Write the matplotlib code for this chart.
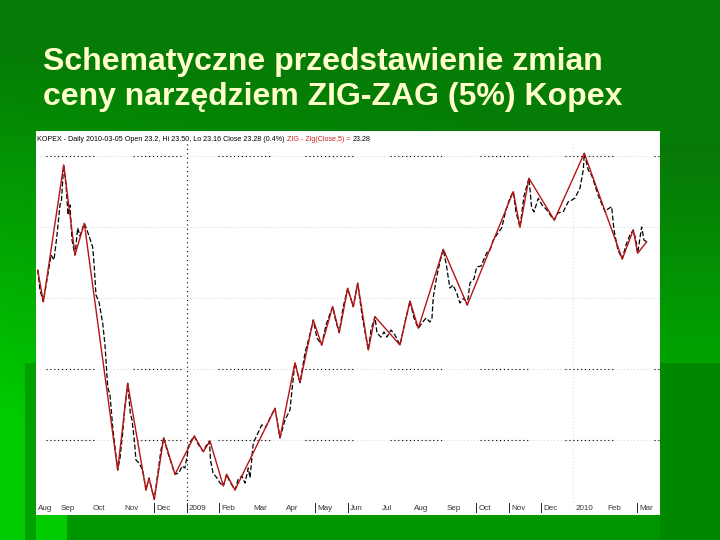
import numpy as np
import matplotlib
matplotlib.use("Agg")
import matplotlib.pyplot as plt
from matplotlib.patches import Rectangle
from matplotlib import font_manager

# ---------------- data (x = months since 1 Aug 2008, y = price) ----------------
zig_month = [0.373, 0.547, 1.180, 1.531, 1.820, 2.857, 3.168, 3.736, 3.829, 3.994,
             4.286, 4.637, 5.236, 5.516, 5.724, 6.137, 6.242, 6.500, 7.742, 7.898,
             8.363, 8.519, 8.932, 9.193, 9.534, 9.739, 10.000, 10.174, 10.311, 10.640,
             10.848, 11.624, 11.935, 12.193, 12.969, 13.714, 15.143, 15.351, 15.630, 16.416,
             17.348, 18.528, 18.870, 19.006, 19.286]
zig_price = [21.97, 19.74, 29.37, 23.03, 25.26, 7.89, 13.99, 6.48, 7.32, 5.82,
             10.16, 7.58, 10.28, 9.18, 9.93, 6.76, 7.58, 6.48, 12.23, 10.16,
             15.44, 14.04, 18.45, 16.69, 19.39, 17.56, 20.68, 19.39, 21.04, 16.34,
             18.68, 16.69, 19.79, 17.87, 23.43, 19.51, 27.49, 24.98, 28.43, 25.49,
             30.19, 22.75, 24.79, 23.15, 23.96]

close_month = [0.373, 0.444, 0.547, 0.661, 0.786, 0.879, 0.972, 1.065, 1.112, 1.180,
               1.252, 1.314, 1.376, 1.438, 1.531, 1.615, 1.686, 1.748, 1.820, 1.904,
               1.975, 2.081, 2.130, 2.183, 2.276, 2.391, 2.463, 2.547, 2.618, 2.711,
               2.857, 2.929, 3.012, 3.084, 3.168, 3.248, 3.301, 3.373, 3.425, 3.519,
               3.634, 3.736, 3.829, 3.994, 4.109, 4.202, 4.286, 4.388, 4.512, 4.637,
               4.761, 4.854, 4.947, 5.081, 5.236, 5.351, 5.516, 5.599, 5.708, 5.739,
               5.817, 5.941, 6.034, 6.137, 6.242, 6.345, 6.500, 6.602, 6.717, 6.811,
               6.913, 6.966, 7.068, 7.214, 7.329, 7.463, 7.587, 7.742, 7.898, 8.053,
               8.208, 8.270, 8.363, 8.519, 8.674, 8.798, 8.932, 9.047, 9.193, 9.326,
               9.534, 9.637, 9.739, 9.854, 10.000, 10.174, 10.311, 10.444, 10.640, 10.724,
               10.848, 10.910, 11.034, 11.127, 11.220, 11.345, 11.469, 11.624, 11.780, 11.935,
               12.059, 12.193, 12.307, 12.432, 12.556, 12.618, 12.658, 12.764, 12.866, 12.969,
               13.075, 13.116, 13.177, 13.270, 13.385, 13.488, 13.612, 13.714, 13.798, 13.922,
               14.006, 14.140, 14.317, 14.419, 14.522, 14.668, 14.783, 14.916, 15.040, 15.143,
               15.227, 15.351, 15.475, 15.630, 15.714, 15.786, 15.919, 16.034, 16.189, 16.314,
               16.416, 16.531, 16.696, 16.851, 16.966, 17.059, 17.214, 17.317, 17.348, 17.472,
               17.587, 17.776, 17.991, 18.084, 18.199, 18.270, 18.394, 18.528, 18.643, 18.767,
               18.870, 18.953, 19.006, 19.078, 19.130, 19.202, 19.286]
close_price = [21.97, 20.56, 19.74, 21.27, 23.03, 22.68, 24.44, 26.55, 26.90, 29.37,
               27.96, 25.85, 26.55, 24.08, 23.03, 24.93, 24.37, 24.79, 25.26, 24.79,
               24.30, 23.59, 22.18, 20.21, 19.72, 18.24, 16.69, 13.73, 13.17, 10.70,
               7.89, 8.73, 10.49, 12.47, 13.99, 11.90, 11.41, 10.00, 8.59, 8.38,
               7.89, 6.48, 7.32, 5.82, 7.75, 9.30, 10.16, 9.30, 8.45, 7.58,
               7.68, 8.17, 8.03, 9.77, 10.28, 9.72, 9.18, 9.58, 9.93, 8.59,
               7.68, 7.33, 6.97, 6.76, 7.58, 7.04, 6.48, 7.25, 7.47, 6.97,
               8.03, 7.33, 9.79, 10.49, 11.06, 10.92, 11.55, 12.23, 10.16, 11.41,
               12.11, 13.52, 15.44, 14.04, 16.13, 17.18, 18.45, 17.18, 16.69, 18.10,
               19.39, 18.31, 17.56, 19.30, 20.68, 19.39, 21.04, 18.80, 16.34, 17.75,
               18.68, 17.54, 17.25, 17.61, 17.25, 17.75, 17.39, 16.69, 18.31, 19.79,
               18.59, 17.87, 18.24, 18.59, 18.31, 18.59, 20.07, 21.48, 22.54, 23.43,
               22.18, 21.55, 20.70, 20.92, 20.35, 19.65, 20.00, 19.51, 21.06, 21.34,
               22.18, 22.25, 23.17, 23.38, 24.08, 24.58, 24.93, 26.20, 27.04, 27.49,
               26.06, 24.98, 27.18, 28.43, 26.34, 26.06, 27.02, 26.55, 26.20, 25.77,
               25.49, 25.99, 26.08, 26.78, 26.90, 27.04, 27.73, 29.01, 30.19, 29.01,
               28.59, 27.25, 26.08, 26.27, 26.43, 24.79, 23.38, 22.75, 23.73, 24.44,
               24.79, 24.08, 23.15, 24.23, 25.00, 24.08, 23.96]

month_labels = ["Aug", "Sep", "Oct", "Nov", "Dec", "2009", "Feb", "Mar", "Apr", "May",
                "Jun", "Jul", "Aug", "Sep", "Oct", "Nov", "Dec", "2010", "Feb", "Mar"]
month_ticks = list(range(20))
marked_months = [4, 5, 6, 9, 10, 14, 15, 16, 19]
grid_levels = [30, 25, 20, 15, 10]

title_lines = ["Schematyczne przedstawienie zmian", "ceny narzędziem ZIG-ZAG (5%) Kopex"]
header_black = "KOPEX - Daily 2010-03-05 Open 23.2, Hi 23.50, Lo 23.16 Close 23.28 (0.4%) "
header_red = "ZIG - Zig(Close,5) = "
header_last = "23.28"

# ---------------- fonts ----------------
names = {f.name for f in font_manager.fontManager.ttflist}
small_font = "Liberation Sans Narrow" if "Liberation Sans Narrow" in names else "Liberation Sans"

W, H = 720, 540
fig = plt.figure(figsize=(7.2, 5.4), dpi=100)

# ---------------- slide background ----------------
bg = fig.add_axes([0, 0, 1, 1])
bg.set_axis_off()
yy, xx = np.mgrid[0:H, 0:W]
t = np.clip((yy / H) * (1 - xx / 900) * 1.5 - 0.15, 0, 1)
dark = np.array([0.02, 0.49, 0.02])
bright = np.array([0.0, 0.80, 0.0])
img = dark[None, None, :] * (1 - t[..., None]) + bright[None, None, :] * t[..., None]
bg.imshow(img, extent=[0, W, H, 0], aspect="auto", interpolation="bilinear")
g = np.linspace(0, 1, 100)[:, None]
c_top = np.array([0.03, 0.47, 0.03]); c_bot = np.array([0.0, 0.64, 0.0])
panel = c_top[None, None, :] * (1 - g[..., None]) + c_bot[None, None, :] * g[..., None]
panel = np.repeat(panel, 2, axis=1)
bg.imshow(panel, extent=[660, W, 363, 143], aspect="auto")
bg.add_patch(Rectangle((660, 363), 60, 177, color="#008800", lw=0))
bg.add_patch(Rectangle((25, 363), 11, 177, color="#00a000", lw=0))
bg.add_patch(Rectangle((67, 515), 593, 25, color="#009600", lw=0))
bg.set_xlim(0, W)
bg.set_ylim(H, 0)

# ---------------- title ----------------
for i, line in enumerate(title_lines):
    fig.text(43 / W, 1 - (70 + 35 * i) / H, line, color="#ffffcc", fontsize=23,
             fontweight="bold", family="Liberation Sans", va="baseline", ha="left")

# ---------------- chart ----------------
ax = fig.add_axes([36 / W, 25 / H, 624 / W, 384 / H])
ax.set_facecolor("white")
for s in ax.spines.values():
    s.set_visible(False)
ax.set_xticks([]); ax.set_yticks([])
ax.set_xlim(0.32, 19.70)
ax.set_ylim(4.72, 31.76)

black_segs = [(0.63, 2.18), (3.33, 4.82), (5.97, 7.62), (8.67, 10.17),
              (11.31, 12.96), (14.11, 15.60), (16.75, 18.30), (19.51, 19.70)]
for lev in grid_levels:
    ax.plot([0.45, 19.70], [lev, lev], color="#d8d8d8", lw=0.8, ls=(0, (1, 2)), zorder=1)
    if lev in (30, 15, 10):
        for a, b in black_segs:
            ax.plot([a, b], [lev, lev], color="black", lw=0.8, ls=(0, (1, 2.5)), zorder=1.5)
ax.axvline(5, ymin=0.026, ymax=0.972, color="black", lw=0.8, ls=(0, (1, 3)), zorder=1.5)
ax.axvline(17, ymin=0.026, ymax=0.972, color="#e2e2e2", lw=0.8, ls=(0, (1, 2)), zorder=1)

ax.plot(close_month, close_price, color="black", lw=0.9, ls=(0, (4, 1.8)), zorder=2)
ax.plot(zig_month, zig_price, color="#b81414", lw=1.0, zorder=3)

xt = ax.get_xaxis_transform()
x0 = ax.get_xlim()[0]
for m, lab in zip(month_ticks, month_labels):
    xpos = max(m, x0) + 0.07
    ax.text(xpos, 0.018, lab, transform=xt, fontsize=5.8, family=small_font,
            color="#333333", ha="left", va="center")
for m in marked_months:
    ax.plot([m, m], [0.008, 0.032], transform=xt, color="#222222", lw=0.7)

t1 = ax.text(0.002, 0.988, header_black, transform=ax.transAxes, fontsize=5.1,
             family=small_font, color="black", ha="left", va="top")
t2 = ax.annotate(header_red, xy=(1, 0), xycoords=t1, fontsize=5.1, family=small_font,
                 color="#d02020", ha="left", va="bottom")
ax.annotate(header_last, xy=(1, 0), xycoords=t2, fontsize=5.1, family=small_font,
            color="black", ha="left", va="bottom")

fig.savefig("out.png", dpi=100)
